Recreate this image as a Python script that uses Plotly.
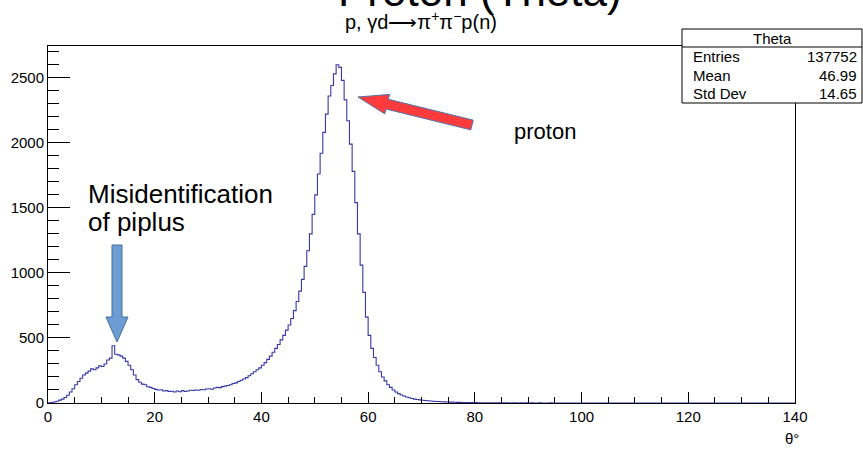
import numpy as np
import plotly.graph_objects as go

# ---------------- data ----------------
theta_min = 0.0
bin_width = 0.5
n_bins = 280  # 0..140 deg

theta_counts = [
    2, 4, 8, 14, 22, 30, 42, 60, 85, 110,
    140, 165, 190, 215, 230, 245, 262, 255, 270, 285,
    280, 300, 330, 345, 440, 375, 370, 360, 345, 320,
    290, 255, 215, 180, 160, 145, 140, 125, 120, 112,
    105, 100, 102, 92, 95, 88, 90, 85, 92, 86,
    95, 88, 92, 98, 96, 100, 98, 104, 102, 108,
    110, 106, 115, 120, 118, 126, 130, 135, 140, 150,
    155, 165, 175, 185, 195, 210, 225, 240, 255, 270,
    290, 310, 335, 360, 390, 420, 450, 485, 520, 560,
    600, 650, 710, 780, 860, 950, 1050, 1170, 1300, 1450,
    1600, 1760, 1920, 2080, 2220, 2360, 2440, 2530, 2600, 2580,
    2480, 2330, 2170, 1990, 1780, 1540, 1300, 1060, 850, 660,
    520, 420, 350, 290, 240, 200, 170, 140, 120, 100,
    85, 72, 62, 54, 46, 40, 35, 30, 27, 24,
    21, 19, 17, 15, 13, 12, 11, 10, 9, 8,
    7, 7, 6, 5, 5, 4, 4, 4, 3, 3,
    3, 2, 2, 2, 2, 1, 2, 1, 1, 1,
    1, 1, 1, 0, 1, 1, 0, 1, 0, 1,
    0, 1, 0, 0, 1, 0, 0, 0, 1, 0,
]

x_ticks = [0, 20, 40, 60, 80, 100, 120, 140]
y_ticks = [0, 500, 1000, 1500, 2000, 2500]

stats_title = "Theta"
stats_labels = ["Entries", "Mean", "Std Dev"]
stats_values = ["137752", "46.99", "14.65"]

title_text = "Proton (Theta)"
subtitle_text = "p, γd⟶π<sup>+</sup>π<sup>−</sup>p(n)"
x_title = "θ°"

# ---------------- geometry helpers ----------------
W, H = 863, 450
L, R, T, B = 48, 795, 46, 403
XMAX, YMAX = 140.0, 2744.0


def px(xp):
    return (xp - L) / (R - L)


def py(yp):
    return (B - yp) / (B - T)


def dx(xp):
    return (xp - L) / (R - L) * XMAX


def dy(yp):
    return (B - yp) / (B - T) * YMAX


counts = np.zeros(n_bins)
counts[: len(theta_counts)] = theta_counts
edges = theta_min + bin_width * np.arange(n_bins + 1)
xs = edges
ys = np.append(counts, counts[-1])

fig = go.Figure()
fig.add_trace(go.Scatter(
    x=xs, y=ys, mode="lines", line=dict(color="#3838a8", width=1.1, shape="hv"),
    hoverinfo="skip", showlegend=False,
))

font_family = "Liberation Sans, Arial, sans-serif"

fig.update_layout(
    width=W, height=H,
    margin=dict(l=L, r=W - R, t=T, b=H - B),
    paper_bgcolor="white", plot_bgcolor="white",
    font=dict(family=font_family, color="black"),
    showlegend=False,
)
fig.update_xaxes(
    range=[0, XMAX], tickvals=x_ticks, ticktext=[str(v) for v in x_ticks],
    ticks="inside", ticklen=11, tickcolor="black", tickwidth=1,
    minor=dict(dtick=5, ticks="inside", ticklen=6, tickcolor="black"),
    showline=True, linecolor="black", linewidth=1, mirror=True,
    showgrid=False, zeroline=False, tickfont=dict(size=15),
)
fig.update_yaxes(
    range=[0, YMAX], tickvals=y_ticks, ticktext=[str(v) for v in y_ticks],
    ticks="inside", ticklen=22, tickcolor="black", tickwidth=1,
    minor=dict(dtick=100, ticks="inside", ticklen=11, tickcolor="black"),
    showline=True, linecolor="black", linewidth=1, mirror=True,
    showgrid=False, zeroline=False, tickfont=dict(size=15),
)

ann = []
# title (partially cut at top)
ann.append(dict(text=title_text, x=px(480), y=py(17), xref="paper", yref="paper",
                xanchor="center", yanchor="bottom", showarrow=False,
                font=dict(size=44, family=font_family)))
ann.append(dict(text=subtitle_text, x=px(421), y=py(20), xref="paper", yref="paper",
                xanchor="center", yanchor="middle", showarrow=False,
                font=dict(size=20, family=font_family)))
# x title
ann.append(dict(text=x_title, x=px(801), y=py(449), xref="paper", yref="paper",
                xanchor="right", yanchor="bottom", showarrow=False,
                font=dict(size=15, family=font_family)))

# stats box
bx0, bx1, by0, by1, bsep = 682, 862, 29, 103, 47
shapes = [
    dict(type="rect", xref="paper", yref="paper", x0=px(bx0), x1=px(bx1),
         y0=py(by1), y1=py(by0), line=dict(color="black", width=1), fillcolor="white", layer="above"),
    dict(type="line", xref="paper", yref="paper", x0=px(bx0), x1=px(bx1),
         y0=py(bsep), y1=py(bsep), line=dict(color="black", width=1), layer="above"),
]
ann.append(dict(text=stats_title, x=px((bx0 + bx1) / 2), y=py((by0 + bsep) / 2), xref="paper", yref="paper",
                xanchor="center", yanchor="middle", showarrow=False, font=dict(size=15)))
row_h = (by1 - bsep) / 3
for i, (lab, val) in enumerate(zip(stats_labels, stats_values)):
    yc = bsep + row_h * (i + 0.5)
    ann.append(dict(text=lab, x=px(bx0 + 9), y=py(yc), xref="paper", yref="paper",
                    xanchor="left", yanchor="middle", showarrow=False, font=dict(size=15)))
    ann.append(dict(text=val, x=px(bx1 - 3), y=py(yc), xref="paper", yref="paper",
                    xanchor="right", yanchor="middle", showarrow=False, font=dict(size=15)))

# text labels
ann.append(dict(text="Misidentification", x=px(86), y=py(211), xref="paper", yref="paper",
                xanchor="left", yanchor="bottom", showarrow=False, font=dict(size=26)))
ann.append(dict(text="of piplus", x=px(86), y=py(239), xref="paper", yref="paper",
                xanchor="left", yanchor="bottom", showarrow=False, font=dict(size=26)))
ann.append(dict(text="proton", x=px(512), y=py(131), xref="paper", yref="paper",
                xanchor="left", yanchor="middle", showarrow=False, font=dict(size=22)))

# blue arrow (down), red arrow (to peak) as filled paths in data coords


def path(points):
    return "M " + " L ".join(f"{dx(a):.4f},{dy(b):.2f}" for a, b in points) + " Z"


blue_pts = [(112, 245), (122, 245), (122, 317), (128, 317), (117, 342), (106, 317), (112, 317)]
shapes.append(dict(type="path", xref="x", yref="y", path=path(blue_pts),
                   fillcolor="#6d9bd3", line=dict(color="#41719c", width=1), layer="above"))

tip = np.array([358.0, 97.0])
tail = np.array([472.0, 125.0])
u = (tip - tail) / np.linalg.norm(tip - tail)
n = np.array([-u[1], u[0]])
if n[1] > 0:
    n = -n
base = tip - 30 * u
red_pts = [tip, base + 10 * n, base + 5 * n, tail + 5 * n, tail - 5 * n, base - 5 * n, base - 10 * n]
shapes.append(dict(type="path", xref="x", yref="y", path=path(red_pts),
                   fillcolor="#ff3b3b", line=dict(color="#4f6fa8", width=1), layer="above"))

fig.update_layout(annotations=ann, shapes=shapes)
fig.write_html("out.html")
